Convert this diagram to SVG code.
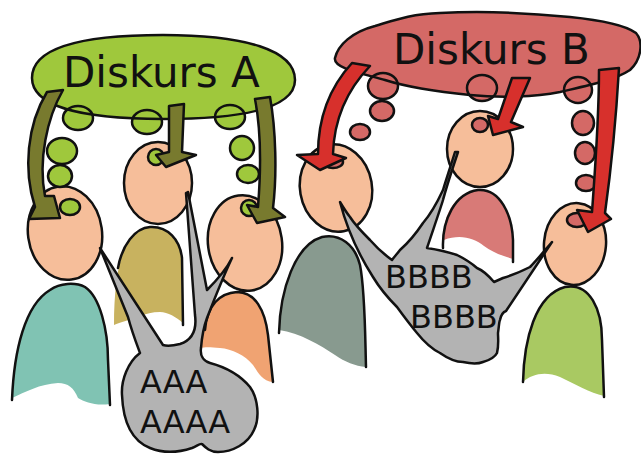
<svg xmlns="http://www.w3.org/2000/svg" width="641" height="455" viewBox="0 0 641 455">
  <style>
    .ln { stroke: #111; stroke-width: 2.5; stroke-linejoin: round; stroke-linecap: round; }
    .open { fill: none; stroke: #111; stroke-width: 2.5; stroke-linejoin: round; stroke-linecap: round; }
    .head { fill: #f6be9a; }
    .ga { fill: #9fc83c; }
    .rb { fill: #d46966; }
    .garrow { fill: #787a2e; }
    .rarrow { fill: #d7302c; }
    .bubble { fill: #b3b3b3; }
    .big { font-family: "DejaVu Sans", "Liberation Sans", sans-serif; font-size: 42px; fill: #111; }
    .say { font-family: "DejaVu Sans", "Liberation Sans", sans-serif; font-size: 32px; fill: #111; }
  </style>
  <rect width="641" height="455" fill="#fff"/>

  <!-- bodies -->
  <g id="bodies">
    <g id="body-a1">
      <path fill="#80c3b3" d="M12,398 C14,350 25,305 50,290 C60,283 75,282 85,287 C100,297 108,330 108,360 L110,404 C95,406 85,402 78,398 C74,388 68,383 58,383 C40,384 25,392 12,398 Z"/>
      <path class="open" d="M12,400 C14,350 25,305 50,290 C60,283 75,282 85,287 C100,297 108,330 108,360 L110,405"/>
    </g>
    <g id="body-a2">
      <path fill="#c8b25f" d="M114,325 C114,290 118,262 125,248 C133,233 142,227 150,227 C168,226 180,240 182,258 L183,323 C176,317 168,312 160,312 C152,312 146,314 140,316 C130,320 120,322 114,325 Z"/>
      <path class="open" d="M118,268 C122,245 135,228 150,227 C168,226 180,240 182,258 L183,325"/>
    </g>
    <g id="body-a3">
      <path fill="#f0a372" d="M200,348 L204,330 C207,305 220,293 237,292 C255,292 265,310 268,335 L273,382 C262,381 258,372 253,365 C245,355 232,349 220,348 C210,347 205,347 200,348 Z"/>
      <path class="open" d="M205,330 C207,305 220,293 237,292 C255,292 265,310 268,335 L273,382"/>
    </g>
    <g id="body-b1">
      <path fill="#889a8f" d="M279,330 C280,290 295,245 322,237 C340,233 355,245 360,265 C365,290 365,330 366,367 C355,366 345,362 335,355 C320,345 300,333 279,330 Z"/>
      <path class="open" d="M279,333 C280,290 295,245 322,237 C340,233 355,245 360,265 C365,290 365,330 366,367"/>
    </g>
    <g id="body-b2">
      <path fill="#d87a77" d="M444,240 C442,215 455,193 478,190 C500,188 512,215 513,240 L513,259 C500,255 492,252 484,246 C474,238 460,234 444,240 Z"/>
      <path class="open" d="M443,248 C442,220 455,193 478,190 C500,188 512,215 513,240 L513,262"/>
    </g>
    <g id="body-b3">
      <path fill="#a9c962" d="M523,382 C524,340 535,295 565,287 C590,282 602,310 602,340 L604,396 C590,393 575,384 560,377 C545,371 532,374 523,382 Z"/>
      <path class="open" d="M523,382 C524,340 535,295 565,287 C590,282 602,310 602,340 L604,397"/>
    </g>
  </g>

  <!-- heads -->
  <g id="heads">
    <ellipse id="head-a1" class="head ln" cx="65" cy="233" rx="37" ry="47" transform="rotate(-8 65 233)"/>
    <ellipse id="head-a2" class="head ln" cx="158" cy="183" rx="34" ry="41"/>
    <ellipse id="head-a3" class="head ln" cx="245" cy="243" rx="37" ry="48" transform="rotate(-8 245 243)"/>
    <ellipse id="head-b1" class="head ln" cx="336" cy="188" rx="36" ry="44" transform="rotate(-10 336 188)"/>
    <ellipse id="head-b2" class="head ln" cx="480" cy="149" rx="33" ry="38"/>
    <ellipse id="head-b3" class="head ln" cx="575" cy="244" rx="31" ry="41" transform="rotate(5 575 244)"/>
  </g>

  <!-- speech bubbles -->
  <g id="speech-a">
    <path class="bubble ln" d="M100,248 L128,317 C132,332 137,345 140,353 C128,362 121,380 122,395 C123,420 130,440 150,448 C165,454 180,452 192,448 C197,446 200,443 202,444 C206,448 210,452 218,452 C232,452 248,444 254,430 C260,418 258,398 250,387 C240,375 225,367 210,363 C203,361 200,355 201,348 C202,335 204,326 207,318 C214,300 224,275 232,258 C226,270 215,282 207,290 L188,192 L186,193 L195,315 C197,330 192,340 180,344 C172,346 166,346 163,345 Z"/>
    <text class="say" x="140" y="393">AAA</text>
    <text class="say" x="140" y="433">AAAA</text>
  </g>
  <g id="speech-b">
    <path class="bubble ln" d="M340,202 C346,225 357,252 373,277 C382,292 390,300 397,307 C405,318 412,327 417,333 C425,343 432,349 440,353 C450,360 456,362 463,362 C472,364 478,364 483,362 C490,360 495,357 497,353 C499,345 498,338 498,333 C499,326 499,322 500,320 C501,315 503,312 506,311 L552,242 C545,250 537,260 530,267 C520,272 510,276 503,278 L494,282 C488,275 482,270 477,268 C470,262 463,258 457,255 C448,252 440,250 427,248 C433,230 440,210 443,200 C447,185 452,170 458,152 L455,152 C450,168 446,180 443,190 C436,205 430,215 423,223 C415,235 408,243 400,250 C397,254 394,257 392,260 C385,255 377,248 370,240 C362,232 355,225 350,217 C346,212 343,207 340,202 Z"/>
    <text class="say" x="385" y="288">BBBB</text>
    <text class="say" x="410" y="328">BBBB</text>
  </g>

  <!-- discourse A -->
  <g id="discourse-a">
    <path class="ga" d="M32,78 C32,48 80,35 163,35 C245,35 295,50 295,80 C295,108 245,119 163,119 C80,119 32,106 32,78 Z"/>
    <g class="ga ln">
      <ellipse cx="78" cy="118" rx="15" ry="12"/>
      <ellipse cx="62" cy="151" rx="15" ry="13"/>
      <ellipse cx="60" cy="176" rx="12" ry="11"/>
      <ellipse cx="70" cy="207" rx="10" ry="8"/>
      <ellipse cx="147" cy="122" rx="15" ry="12"/>
      <ellipse cx="156" cy="157" rx="8" ry="8"/>
      <ellipse cx="230" cy="117" rx="15" ry="12"/>
      <ellipse cx="242" cy="148" rx="12" ry="12"/>
      <ellipse cx="248" cy="174" rx="11" ry="9"/>
      <ellipse cx="249" cy="208" rx="8" ry="8"/>
    </g>
    <path class="open" d="M32,78 C32,48 80,35 163,35 C245,35 295,50 295,80 C295,108 245,119 163,119 C80,119 32,106 32,78 Z"/>
    <text class="big" x="63" y="87">Diskurs A</text>
  </g>

  <!-- discourse B -->
  <g id="discourse-b">
    <path class="rb" d="M335,58 C338,45 352,32 375,26 C395,20 410,14 440,13 C480,11 530,13 570,17 C600,20 625,25 636,33 C644,42 641,60 630,70 C615,80 590,85 560,92 C535,97 500,98 470,95 C440,92 410,88 385,80 C360,73 333,68 335,58 Z"/>
    <g class="rb ln">
      <ellipse cx="383" cy="86" rx="15" ry="13"/>
      <ellipse cx="382" cy="111" rx="12" ry="10"/>
      <ellipse cx="360" cy="132" rx="10" ry="8"/>
      <ellipse cx="333" cy="162" rx="10" ry="6"/>
      <ellipse cx="482" cy="88" rx="15" ry="13"/>
      <ellipse cx="480" cy="125" rx="8" ry="7"/>
      <ellipse cx="578" cy="90" rx="14" ry="13"/>
      <ellipse cx="583" cy="123" rx="11" ry="12"/>
      <ellipse cx="585" cy="153" rx="10" ry="11"/>
      <ellipse cx="586" cy="183" rx="10" ry="8"/>
      <ellipse cx="577" cy="220" rx="10" ry="7"/>
    </g>
    <path class="open" d="M335,58 C338,45 352,32 375,26 C395,20 410,14 440,13 C480,11 530,13 570,17 C600,20 625,25 636,33 C644,42 641,60 630,70 C615,80 590,85 560,92 C535,97 500,98 470,95 C440,92 410,88 385,80 C360,73 333,68 335,58 Z"/>
    <text class="big" x="393" y="64">Diskurs B</text>
  </g>

  <!-- influence arrows -->
  <g id="connectors">
    <path class="garrow ln" d="M47,92 L63,90 C47,118 38,160 45,196 L54,196 L60,218 L29,219 L35,207 C23,170 27,125 47,92 Z"/>
    <path class="garrow ln" d="M169,106 L184,104 L182,152 L196,155 L166,167 L156,155 L169,152 Z"/>
    <path class="garrow ln" d="M255,99 L270,97 C276,130 277,175 273,208 L285,217 L257,223 L247,205 L258,207 C261,170 261,130 255,99 Z"/>
    <path class="rarrow ln" d="M352,63 L370,66 C347,90 334,120 333,154 L346,158 L320,170 L297,155 L318,154 C318,120 329,88 352,63 Z"/>
    <path class="rarrow ln" d="M512,78 L530,78 L511,122 L523,127 L493,135 L488,116 L498,119 Z"/>
    <path class="rarrow ln" d="M599,70 L619,68 C616,120 611,170 605,213 L611,219 L588,232 L577,210 L592,212 C595,170 599,120 599,70 Z"/>
  </g>
</svg>
